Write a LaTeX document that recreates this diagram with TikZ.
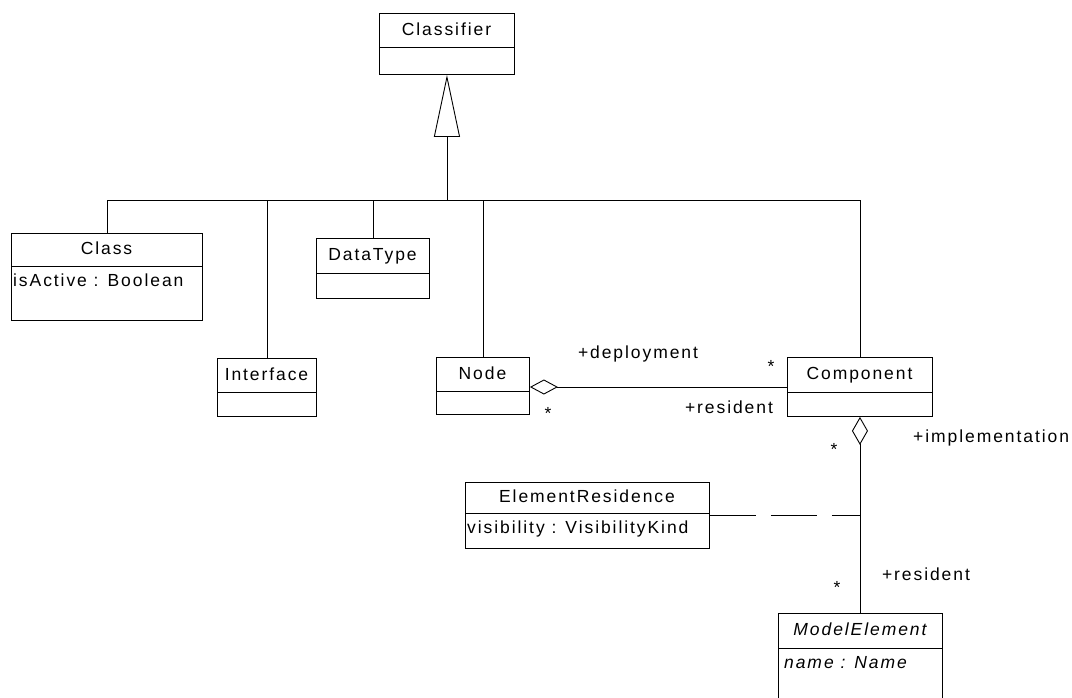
\documentclass[tikz,border=0pt]{standalone}
\usepackage{fontspec}
\setmainfont{Liberation Sans}[LetterSpace=11]
\usetikzlibrary{arrows.meta,calc}

% UML class box: name, left, top, right, bottom, divider, title, font option
\newcommand\umlclass[8]{%
  \pgfmathsetmacro\boxw{#4-#2}%
  \pgfmathsetmacro\boxh{#5-#3}%
  \node[classbox, minimum width=\boxw pt, minimum height=\boxh pt, anchor=north west] (#1) at (#2,#3) {};
  \draw[umlline] (#2,#6) -- (#4,#6);
  \node[umltext, #8] (#1-title) at ({(#2+#4)/2},{(#3+#6)/2}) {#7};
}
% attribute line below the divider: box name, left, divider, text, font option
\newcommand\umlattr[5]{%
  \node[umltext, anchor=west, #5] (#1-attr) at (#2,#3+15) {#4};
}

\begin{document}
\begin{tikzpicture}[x=1pt,y=-1pt,
  umlline/.style={line width=0.9pt, draw=black},
  classbox/.style={draw=black, line width=0.9pt, inner sep=0pt, fill=white},
  umltext/.style={inner sep=0pt, text height=0.716em, text depth=0pt, yshift=-1.5pt,
    font=\fontsize{17.5pt}{20pt}\selectfont},
  role/.style={umltext},
  mult/.style={umltext, yshift=-5pt},
  abstract/.style={font=\fontsize{17.5pt}{20pt}\selectfont\itshape},
]
\useasboundingbox (0,0) rectangle (1072,697);

% classes
\umlclass{Classifier}{379}{13}{514}{74}{47}{Classifier}{}
\umlclass{Class}{11}{233}{202}{320}{266}{Class}{}
\umlattr{Class}{13}{266}{isActive : Boolean}{}
\umlclass{DataType}{316}{238}{429}{298}{273}{DataType}{}
\umlclass{Interface}{217}{358}{316}{416}{392}{Interface}{}
\umlclass{Node}{436}{357}{529}{414}{391}{Node}{}
\umlclass{Component}{787}{357}{932}{416}{392}{Component}{}
\umlclass{ElementResidence}{465}{482}{709}{548}{513}{ElementResidence}{}
\umlattr{ElementResidence}{467}{513}{visibility : VisibilityKind}{}
\umlclass{ModelElement}{778}{613}{942}{710}{648}{ModelElement}{abstract}
\umlattr{ModelElement}{784}{648}{name : Name}{abstract}

% generalization tree
\coordinate (busL) at (Class.north |- 0,200);
\coordinate (busR) at (Component.north |- 0,200);
\draw[umlline] (Class.north) -- (busL) -- (busR) -- (Component.north);
\draw[umlline] (Interface.north) -- (Interface.north |- busL);
\draw[umlline] (DataType.north) -- (DataType.north |- busL);
\draw[umlline] (Node.north) -- (Node.north |- busL);
\draw[umlline, -{Triangle[open, length=62pt, width=26pt, fill=white]}]
  (Classifier.south |- busL) -- (Classifier.south);

% deployment aggregation
\draw[umlline, {Diamond[open, length=28pt, width=15pt]}-]
  (Node.east |- 0,387) -- (Component.west |- 0,387);
\node[role] (deployLbl) at (638,353) {+deployment};
\node[mult] (deployMult) at (771,362) {*};
\node[role] (residentLbl) at (729,408) {+resident};
\node[mult] (nodeMult) at (548,409) {*};

% implementation aggregation
\draw[umlline, {Diamond[open, length=28pt, width=16pt]}-]
  (Component.south) -- (Component.south |- ModelElement.north);
\node[mult] (implMult) at (834,445) {*};
\node[role, anchor=west] (implLbl) at (913,437) {+implementation};
\node[mult] (resMult) at (837,583) {*};
\node[role] (residentLbl2) at (926,575) {+resident};

% association class link
\coordinate (erJoin) at (Component.south |- 0,515);
\draw[umlline, dash pattern=on 46pt off 15pt]
  (ElementResidence.east |- erJoin) -- (erJoin);
\end{tikzpicture}
\end{document}
